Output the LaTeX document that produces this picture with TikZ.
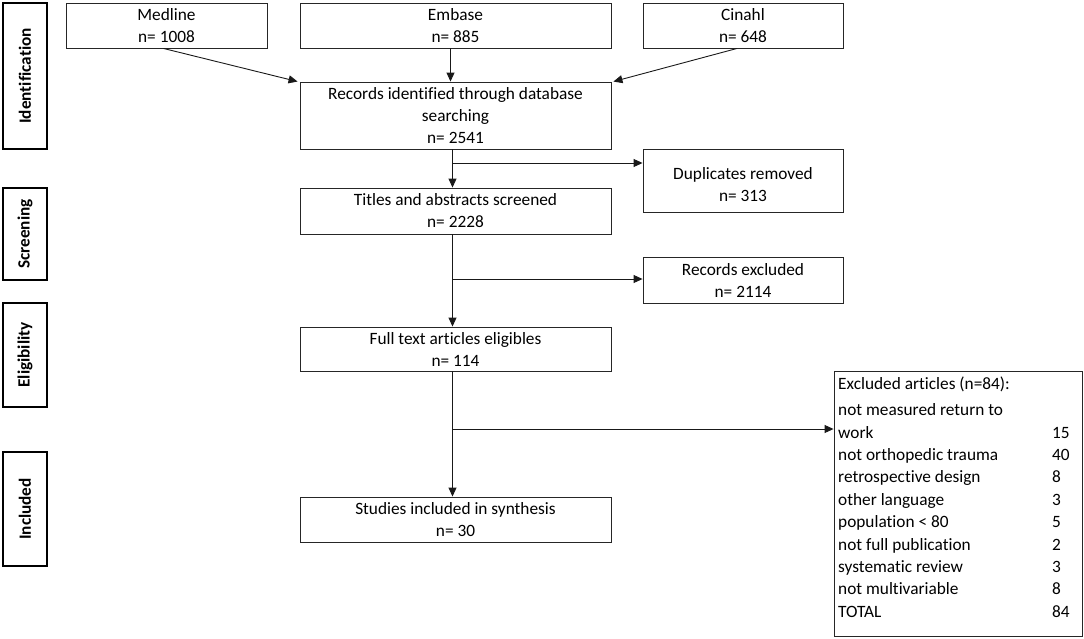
\documentclass[tikz,border=0pt]{standalone}
\usepackage{fontspec}
\setmainfont{Carlito}[Ligatures=NoCommon]
\usetikzlibrary{arrows.meta,calc}
\begin{document}
\begin{tikzpicture}[x=1pt,y=-1pt,
  box/.style={draw=black!85,line width=0.9pt,inner sep=0pt,align=center,
    font=\fontsize{17.3}{22}\selectfont},
  side/.style={draw=black,line width=2.6pt,inner sep=0pt,minimum width=44pt},
  sidet/.style={rotate=90,inner sep=0pt,font=\fontsize{17.2}{20}\selectfont\bfseries},
  arr/.style={draw=black!90,line width=0.9pt,-{Triangle[length=9pt,width=8pt]}}]
\useasboundingbox (0,0) rectangle (1084,638);
% side labels
\node[side,minimum height=146pt] (ide) at (25,76) {};
\node[sidet] (idet) at (ide.center) {Identification};
\node[side,minimum height=92pt] (scr) at (25,234) {};
\node[sidet] (scrt) at (scr.center) {Screening};
\node[side,minimum height=104pt] (eli) at (25,355) {};
\node[sidet] (elit) at (eli.center) {Eligibility};
\node[side,minimum height=114pt] (inc) at (25,509) {};
\node[sidet] (inct) at (inc.center) {Included};
% boxes
\node[box,minimum width=201pt,minimum height=45pt] (med) at (166.5,25.5) {Medline\\n= 1008};
\node[box,minimum width=311pt,minimum height=45pt] (emb) at (455.5,25.5) {Embase\\n= 885};
\node[box,minimum width=200pt,minimum height=45pt] (cin) at (743,25.5) {Cinahl\\n= 648};
\node[box,minimum width=311pt,minimum height=67pt] (rec) at (455.5,115.5) {Records identified through database\\searching\\n= 2541};
\node[box,minimum width=200pt,minimum height=63pt] (dup) at (743,180.5) {\mbox{}\\[-1pt]Duplicates removed\\n= 313};
\node[box,minimum width=311pt,minimum height=46pt] (tit) at (455.5,211) {Titles and abstracts screened\\n= 2228};
\node[box,minimum width=200pt,minimum height=46pt] (rex) at (743,280) {Records excluded\\n= 2114};
\node[box,minimum width=311pt,minimum height=44pt] (ful) at (455.5,349) {Full text articles eligibles\\n= 114};
\node[box,minimum width=311pt,minimum height=45pt] (stu) at (455.5,519.5) {Studies included in synthesis\\n= 30};
\node[box,minimum width=248pt,minimum height=265pt] (exc) at (958,503.5) {};
\node[anchor=north west,inner sep=0pt,font=\fontsize{17.3}{22.4}\selectfont] (exct) at (838,373.5)
{\begin{tabular}{@{}p{214pt}@{}l@{}}
Excluded articles (n=84): & \\[4pt]
not measured return to & \\
work & 15\\
not orthopedic trauma & 40\\
retrospective design & 8\\
other language & 3\\
population < 80 & 5\\
not full publication & 2\\
systematic review & 3\\
not multivariable & 8\\
TOTAL & 84
\end{tabular}};
% connectors
\draw[arr] ([xshift=-3pt]med.south) -- ([xshift=-2pt]rec.north west);
\draw[arr] ([xshift=-5pt]emb.south) -- ([xshift=-5pt]rec.north);
\draw[arr] ([xshift=-6pt]cin.south) -- ([xshift=2pt]rec.north east);
\draw[arr] ([xshift=-3pt]rec.south) -- ([xshift=-3pt]tit.north);
\coordinate (b1) at (452,163);
\draw[arr] (b1) -- (b1 -| dup.west);
\draw[arr] ([xshift=-3pt]tit.south) -- ([xshift=-3pt]ful.north);
\coordinate (b2) at (452,279);
\draw[arr] (b2) -- (b2 -| rex.west);
\draw[arr] ([xshift=-3pt]ful.south) -- ([xshift=-3pt]stu.north);
\coordinate (b3) at (452,429);
\draw[arr] (b3) -- (b3 -| exc.west);
\end{tikzpicture}
\end{document}
